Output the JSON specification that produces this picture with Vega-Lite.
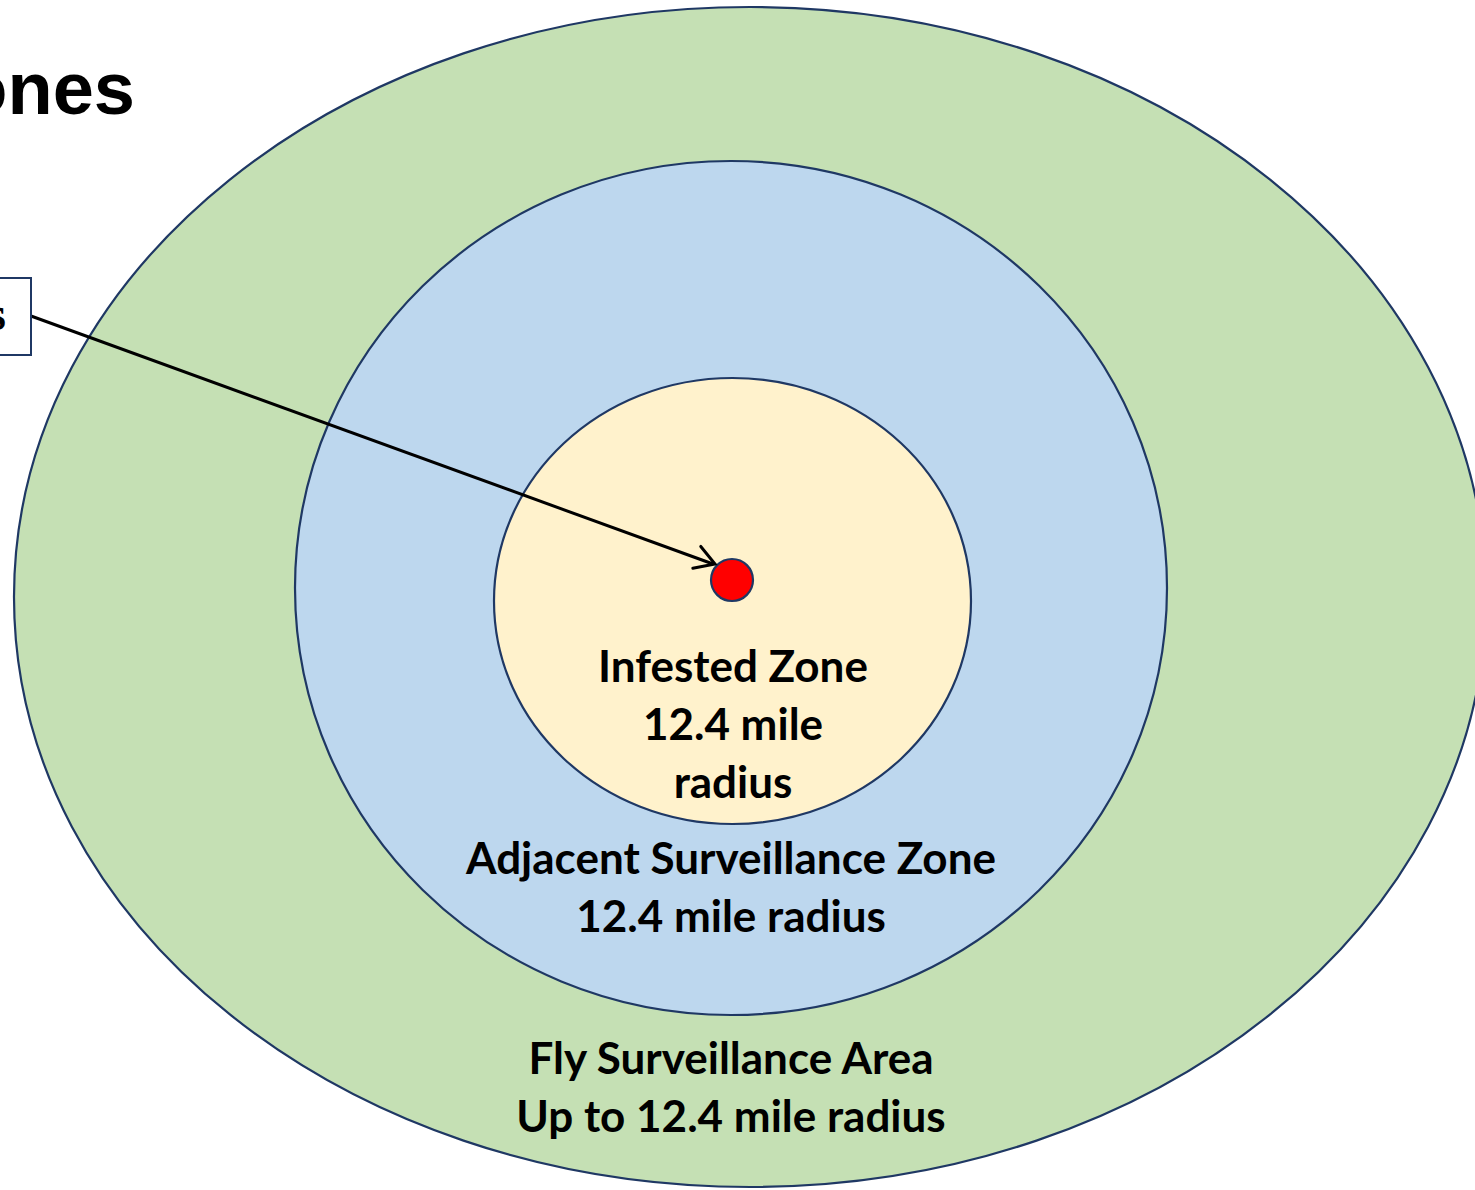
{
  "$schema": "https://vega.github.io/schema/vega-lite/v6.json",
  "width": 1475,
  "height": 1190,
  "padding": 0,
  "autosize": {"type": "none"},
  "background": "white",
  "config": {"view": {"stroke": null}},
  "datasets": {
    "zones": [
      {"zone": "Fly Surveillance Area", "cx": 750, "cy": 597, "rx": 736},
      {"zone": "Adjacent Surveillance Zone", "cx": 731, "cy": 588, "rx": 436},
      {"zone": "Infested Zone", "cx": 732.5, "cy": 601, "rx": 238.5},
      {"zone": "Infested site", "cx": 732, "cy": 580, "rx": 21}
    ],
    "labels": [
      {"text": "Infested Zone\n12.4 mile\nradius", "x": 733, "y": 669},
      {"text": "Adjacent Surveillance Zone\n12.4 mile radius", "x": 731, "y": 861},
      {"text": "Fly Surveillance Area\nUp to 12.4 mile radius", "x": 731, "y": 1061}
    ],
    "arrow": [{"x": 31, "y": 316, "x2": 713, "y2": 564}],
    "head": [{"x": 715, "y": 564}],
    "box": [{"x": -10, "x2": 31, "y": 278, "y2": 355, "label": "s", "lx": 6, "ly": 330}],
    "title": [{"text": "Zones", "x": 135, "y": 114}]
  },
  "encoding": {
    "x": {"type": "quantitative", "scale": {"domain": [0, 1475], "nice": false, "zero": false}, "axis": null},
    "y": {"type": "quantitative", "scale": {"domain": [0, 1190], "nice": false, "zero": false, "reverse": true}, "axis": null}
  },
  "layer": [
    {
      "data": {"name": "zones"},
      "mark": {"type": "point", "filled": true, "opacity": 1, "fillOpacity": 1, "stroke": "#1F3864", "strokeWidth": 2.2, "strokeOpacity": 1},
      "encoding": {
        "x": {"field": "cx"},
        "y": {"field": "cy"},
        "size": {"field": "rx", "type": "quantitative", "scale": {"type": "pow", "exponent": 2, "domain": [0, 1000], "range": [0, 4000000], "zero": true}, "legend": null},
        "fill": {"field": "zone", "type": "nominal", "scale": {"domain": ["Fly Surveillance Area", "Adjacent Surveillance Zone", "Infested Zone", "Infested site"], "range": ["#C5E0B4", "#BDD7EE", "#FFF2CC", "#FF0000"]}, "legend": null},
        "shape": {"field": "zone", "type": "nominal", "scale": {"domain": ["Fly Surveillance Area", "Adjacent Surveillance Zone", "Infested Zone", "Infested site"], "range": ["M-1,0A1,0.8016,0,1,0,1,0A1,0.8016,0,1,0,-1,0Z", "M-1,0A1,0.9794,0,1,0,1,0A1,0.9794,0,1,0,-1,0Z", "M-1,0A1,0.935,0,1,0,1,0A1,0.935,0,1,0,-1,0Z", "circle"]}, "legend": null}
      }
    },
    {
      "data": {"name": "arrow"},
      "mark": {"type": "rule", "color": "black", "strokeWidth": 3},
      "encoding": {
        "x": {"field": "x"},
        "y": {"field": "y"},
        "x2": {"field": "x2"},
        "y2": {"field": "y2"}
      }
    },
    {
      "data": {"name": "head"},
      "mark": {"type": "point", "filled": false, "stroke": "black", "strokeWidth": 3, "opacity": 1, "shape": "M-1,-0.6L0,0L-1,0.6", "size": 1500, "angle": 20, "strokeCap": "round"},
      "encoding": {"x": {"field": "x"}, "y": {"field": "y"}}
    },
    {
      "data": {"name": "box"},
      "mark": {"type": "rect", "fill": "white", "stroke": "#1F3864", "strokeWidth": 2},
      "encoding": {"x": {"field": "x"}, "x2": {"field": "x2"}, "y": {"field": "y"}, "y2": {"field": "y2"}}
    },
    {
      "data": {"name": "box"},
      "mark": {"type": "text", "font": "Liberation Serif", "fontSize": 48, "fontWeight": "bold", "align": "right", "baseline": "alphabetic", "color": "black"},
      "encoding": {"x": {"field": "lx"}, "y": {"field": "ly"}, "text": {"field": "label"}}
    },
    {
      "data": {"name": "labels"},
      "mark": {"type": "text", "font": "Lato", "fontSize": 44, "fontWeight": "bold", "align": "center", "baseline": "middle", "lineBreak": "\n", "lineHeight": 58, "color": "black"},
      "encoding": {"x": {"field": "x"}, "y": {"field": "y"}, "text": {"field": "text"}}
    },
    {
      "data": {"name": "title"},
      "mark": {"type": "text", "font": "Liberation Sans", "fontSize": 74, "fontWeight": "bold", "align": "right", "baseline": "alphabetic", "color": "black"},
      "encoding": {"x": {"field": "x"}, "y": {"field": "y"}, "text": {"field": "text"}}
    }
  ]
}
